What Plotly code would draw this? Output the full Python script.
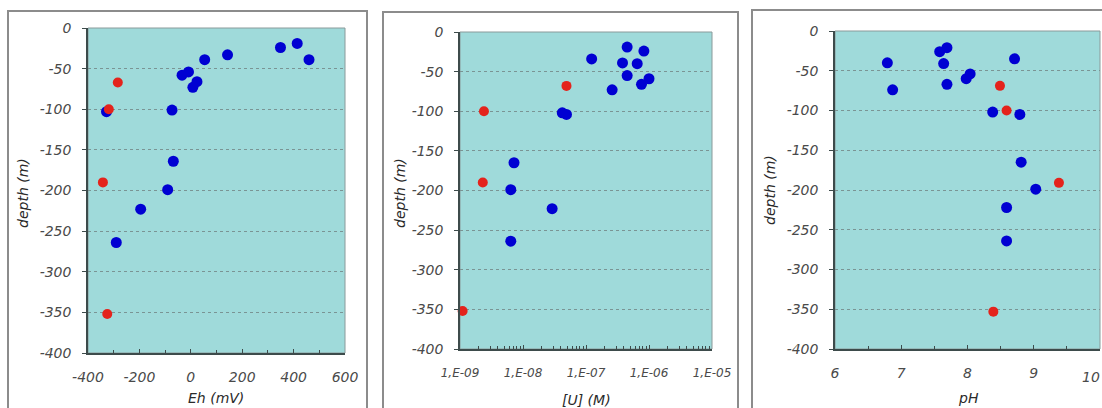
import plotly.graph_objects as go

# ---------------- data ----------------
eh_blue = [414, 349, 143, 460, 54, -9, -34, 24, 8, -73, -328, -68, -90, -195, -290]
eh_blue_depth = [-19, -24, -33, -39, -39, -54, -58, -66, -73, -101, -103, -164, -199, -223, -264]
eh_red = [-284, -319, -342, -325]
eh_red_depth = [-67, -100, -190, -352]

u_blue = [4.5e-7, 8.3e-7, 1.23e-7, 3.8e-7, 6.5e-7, 4.5e-7, 1.0e-6, 7.6e-7, 2.6e-7,
          4.2e-8, 4.9e-8, 7.2e-9, 6.4e-9, 2.9e-8, 6.4e-9]
u_blue_depth = [-19, -24, -34, -39, -40, -55, -59, -66, -73, -102, -104, -165, -199, -223, -264]
u_red = [4.9e-8, 2.4e-9, 2.3e-9, 1.1e-9]
u_red_depth = [-68, -100, -190, -352]

ph_blue = [7.69, 7.58, 8.71, 6.79, 7.64, 8.04, 7.98, 7.69, 6.87, 8.38, 8.79, 8.81, 9.03, 8.59, 8.59]
ph_blue_depth = [-21, -26, -35, -40, -41, -54, -60, -67, -74, -102, -105, -165, -199, -222, -264]
ph_red = [8.49, 8.59, 9.38, 8.39]
ph_red_depth = [-69, -100, -191, -353]

depth_ticks = [0, -50, -100, -150, -200, -250, -300, -350, -400]
depth_ticktext = ["0", "-50", "-100", "-150", "-200", "-250", "-300", "-350", "-400"]
eh_ticks = [-400, -200, 0, 200, 400, 600]
eh_ticktext = ["-400", "-200", "0", "200", "400", "600"]
u_ticks = [1e-9, 1e-8, 1e-7, 1e-6, 1e-5]
u_ticktext = ["1,E-09", "1,E-08", "1,E-07", "1,E-06", "1,E-05"]
ph_ticks = [6, 7, 8, 9, 10]
ph_ticktext = ["6", "7", "8", "9", "10"]

x_titles = ["Eh (mV)", "[U] (M)", "pH"]
y_title = "depth (m)"

# ---------------- layout helpers ----------------
W, H = 1102, 408
def px(x):
    return x / W
def py(y):
    return 1 - y / H

FONT = "DejaVu Sans"
TEAL = "#9fdada"
BLUE = "#0000d2"
RED = "#e4231c"
AXC = "#3d4b4b"
TICKC = "#4a4a4a"

# plot areas (pixel boxes: left, right, top, bottom)
boxes = [(88, 345, 28, 353), (460, 712, 32, 349), (835, 1100, 31, 349)]
# outer panel frames
frames = [(8, 367, 11), (383, 738, 12), (752, 1110, 10)]

fig = go.Figure()

series = [
    (eh_blue, eh_blue_depth, eh_red, eh_red_depth),
    (u_blue, u_blue_depth, u_red, u_red_depth),
    (ph_blue, ph_blue_depth, ph_red, ph_red_depth),
]
for i, (bx, by, rx, ry) in enumerate(series):
    xa = "x" if i == 0 else f"x{i+1}"
    ya = "y" if i == 0 else f"y{i+1}"
    fig.add_trace(go.Scatter(x=bx, y=by, mode="markers", xaxis=xa, yaxis=ya,
                             marker=dict(color=BLUE, size=11, line=dict(width=0)),
                             cliponaxis=False, showlegend=False))
    fig.add_trace(go.Scatter(x=rx, y=ry, mode="markers", xaxis=xa, yaxis=ya,
                             marker=dict(color=RED, size=10, line=dict(width=0)),
                             cliponaxis=False, showlegend=False))

tickfont = dict(family=FONT, size=14, color=TICKC, style="italic")

layout = dict(
    width=W, height=H,
    margin=dict(l=0, r=0, t=0, b=0, autoexpand=False),
    paper_bgcolor="white",
    showlegend=False,
)

for i, (l, r, t, b) in enumerate(boxes):
    xk = "xaxis" if i == 0 else f"xaxis{i+1}"
    yk = "yaxis" if i == 0 else f"yaxis{i+1}"
    xa_anchor = "y" if i == 0 else f"y{i+1}"
    ya_anchor = "x" if i == 0 else f"x{i+1}"
    yaxis = dict(
        domain=[py(b), py(t)], anchor=ya_anchor, range=[-400, 0],
        tickvals=depth_ticks, ticktext=depth_ticktext,
        ticks="outside", ticklen=4, tickcolor=AXC, tickwidth=1,
        showline=True, linecolor=AXC, linewidth=1.5,
        showgrid=True, gridcolor="#7a9494", griddash="dot", gridwidth=1,
        zeroline=False, tickfont=tickfont, ticklabelstandoff=8,
        fixedrange=True, automargin=False,
    )
    xaxis = dict(
        domain=[px(l), px(r)], anchor=xa_anchor,
        ticks="inside", ticklen=4, tickcolor=AXC, tickwidth=1,
        showline=True, linecolor=AXC, linewidth=1.5,
        showgrid=False, zeroline=False, tickfont=tickfont,
        ticklabelstandoff=10, fixedrange=True, automargin=False,
    )
    if i == 0:
        xaxis.update(range=[-400, 600], tickvals=eh_ticks, ticktext=eh_ticktext,
                     minor=dict(ticks="inside", ticklen=3, dtick=100, tickcolor=AXC, showgrid=False))
    elif i == 1:
        xaxis.update(type="log", range=[-9, -5], tickvals=u_ticks, ticktext=u_ticktext,
                     tickfont=dict(family=FONT, size=12, color=TICKC, style="italic"),
                     ticklabelstandoff=12,
                     minor=dict(ticks="inside", ticklen=3, dtick="D1", tickcolor=AXC, showgrid=False))
    else:
        xaxis.update(range=[6, 10], tickvals=ph_ticks[:-1], ticktext=ph_ticktext[:-1],
                     minor=dict(ticks="inside", ticklen=3, dtick=0.5, tickcolor=AXC, showgrid=False))
    layout[xk] = xaxis
    layout[yk] = yaxis

shapes = []
annotations = []
for i, (l, r, t, b) in enumerate(boxes):
    # teal plot area
    shapes.append(dict(type="rect", xref="paper", yref="paper", layer="below",
                       x0=px(l), x1=px(r), y0=py(b), y1=py(t),
                       fillcolor=TEAL, line=dict(color="#8a9a9a", width=1)))
for (l, r, t) in frames:
    shapes.append(dict(type="rect", xref="paper", yref="paper", layer="below",
                       x0=px(l), x1=px(r), y0=py(412), y1=py(t),
                       fillcolor="rgba(0,0,0,0)", line=dict(color="#8c8c8c", width=2)))

# last pH tick label sits at the right edge of the picture; keep it fully visible
annotations.append(dict(text=ph_ticktext[-1], x=1.0, xref="paper", y=py(377), yref="paper",
                        showarrow=False, xanchor="right", yanchor="middle", font=tickfont))

title_font = dict(family=FONT, size=14, color="#2a2a2a", style="italic")
x_title_pos = [(216, 398), (586, 400), (968, 398)]
y_title_pos = [(23, 193), (400, 193), (770, 190)]
for i in range(3):
    xt, yt = x_title_pos[i]
    annotations.append(dict(text=x_titles[i], x=px(xt), y=py(yt), xref="paper", yref="paper",
                            showarrow=False, xanchor="center", yanchor="middle", font=title_font))
    xt, yt = y_title_pos[i]
    annotations.append(dict(text=y_title, x=px(xt), y=py(yt), xref="paper", yref="paper",
                            showarrow=False, xanchor="center", yanchor="middle", textangle=-90,
                            font=title_font))

layout["shapes"] = shapes
layout["annotations"] = annotations
layout["plot_bgcolor"] = "rgba(0,0,0,0)"
fig.update_layout(**layout)

fig.write_html(
    "out.html",
    config={"displayModeBar": False},
    post_script="document.body.style.margin='0';document.body.style.overflow='hidden';",
)
